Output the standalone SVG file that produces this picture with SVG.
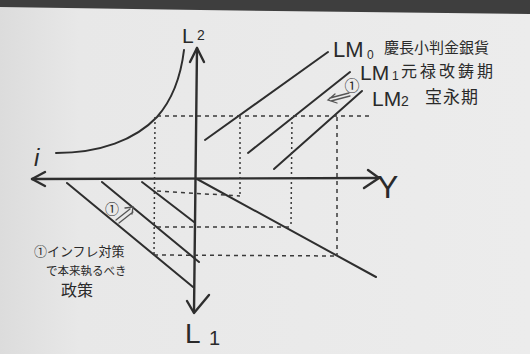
<svg xmlns="http://www.w3.org/2000/svg" width="530" height="354" viewBox="0 0 530 354">
<defs>
<linearGradient id="paper" x1="0" y1="0" x2="1" y2="0">
<stop offset="0" stop-color="#dcdcdc"/>
<stop offset="0.15" stop-color="#e8e8e8"/>
<stop offset="1" stop-color="#ececec"/>
</linearGradient>
<style>
.ln{fill:none;stroke:#2e2e2e;stroke-width:2;stroke-linecap:round;stroke-linejoin:round}
.ax{fill:none;stroke:#2e2e2e;stroke-width:2.4;stroke-linecap:round;stroke-linejoin:round}
.ds{fill:none;stroke:#3a3a3a;stroke-width:1.5;stroke-dasharray:4 4}
.dot{fill:none;stroke:#3a3a3a;stroke-width:1.5;stroke-dasharray:2 3}
.tx{fill:#2a2a2a;font-family:"Liberation Sans","Noto Sans CJK JP",sans-serif}
.jp{fill:#2a2a2a;font-family:"Noto Sans CJK JP",sans-serif}
.ar{fill:none;stroke:#555;stroke-width:1.3;stroke-linecap:round}
</style>
</defs>
<rect width="530" height="354" fill="url(#paper)"/>
<polygon points="0,0 530,0 530,14 200,10 0,7" fill="#3e3e3e"/>

<g id="axes">
<path class="ax" d="M197,48 L194,312"/>
<path class="ax" d="M190,62 L197,48 L204,62"/>
<path class="ax" d="M187,301 L194,313 L209,295"/>
<path class="ax" d="M32,179 L378,178"/>
<path class="ax" d="M45,172 L32,179 L45,186"/>
<path class="ax" d="M368,170 L379,178 L364,188"/>
<text class="tx" x="182" y="43" font-size="21">L</text>
<text class="tx" x="197" y="40" font-size="14">2</text>
<text class="tx" x="185" y="343" font-size="28">L</text>
<text class="tx" x="209" y="345" font-size="20">1</text>
<text class="tx" x="377" y="198" font-size="32">Y</text>
<text class="tx" x="34" y="166" font-size="24" font-style="italic">i</text>
</g>

<g id="curve">
<path class="ln" d="M56,153 C100,153 135,140 157,117 C172,100 181,75 184,50"/>
</g>

<g id="lm-lines">
<path class="ln" d="M205,140 L328,52"/>
<path class="ln" d="M248,153 L350,72"/>
<path class="ln" d="M274,169 L362,91"/>
<path class="ln" d="M197,179 L376,277"/>
<path class="ln" d="M67,183 L193,287"/>
<path class="ln" d="M102,182 L199,262"/>
<path class="ln" d="M142,182 L194,222"/>
</g>

<g id="dashes">
<path class="ds" d="M157,116 L372,116"/>
<path class="dot" d="M155,117 L154,255"/>
<path class="dot" d="M240,117 L240,197"/>
<path class="dot" d="M292,117 L291,226"/>
<path class="ds" d="M337,117 L337,256"/>
<path class="ds" d="M157,191 L240,196"/>
<path class="ds" d="M157,227 L291,227"/>
<path class="ds" d="M154,255 L337,256"/>
</g>

<g id="labels">
<text class="tx" x="333" y="57" font-size="22">LM</text>
<text class="tx" x="367" y="59" font-size="12">0</text>
<text class="jp" x="384" y="53" font-size="15">慶長小判金銀貨</text>
<text class="tx" x="360" y="80" font-size="21">LM</text>
<text class="tx" x="392" y="80" font-size="12">1</text>
<text class="jp" x="401" y="77" font-size="16" letter-spacing="3">元禄改鋳期</text>
<text class="tx" x="372" y="106" font-size="21">LM</text>
<text class="tx" x="401" y="106" font-size="14">2</text>
<text class="jp" x="425" y="103" font-size="17" letter-spacing="1">宝永期</text>
</g>

<g id="marker-upper">
<text class="jp" x="352" y="91" font-size="15" text-anchor="middle" fill="#444">①</text>
<path class="ar" d="M349,93 L330,98 M350,96 L331,101 M335,94 L328,100 L337,103"/>
</g>

<g id="marker-lower">
<text class="jp" x="112" y="214" font-size="14" text-anchor="middle" fill="#444">①</text>
<path class="ar" d="M116,220 L130,209 M119,223 L133,212 M125,208 L133,207 L132,214"/>
</g>

<g id="note">
<text class="jp" x="34" y="256" font-size="13">①インフレ対策</text>
<text class="jp" x="46" y="275" font-size="11.5">で本来執るべき</text>
<text class="jp" x="61" y="296" font-size="16">政策</text>
</g>
</svg>
